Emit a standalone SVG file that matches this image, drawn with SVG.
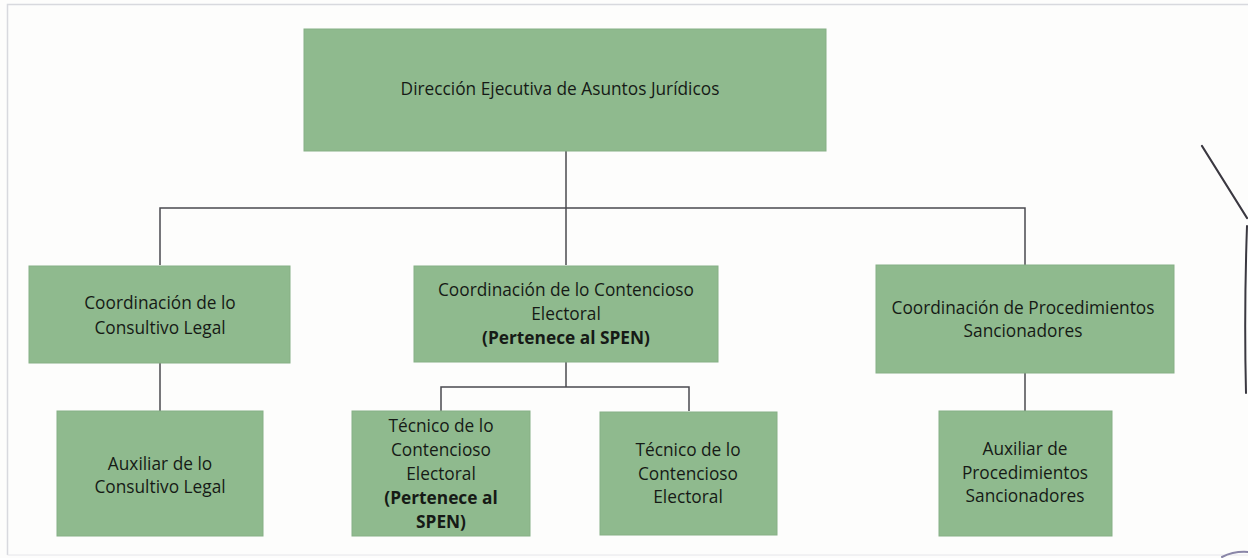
<svg xmlns="http://www.w3.org/2000/svg" width="1248" height="558" viewBox="0 0 1248 558">
<style>
.box{fill:#8fba8e;stroke:#86b085;stroke-width:1}
.t{font-family:"Open Sans","Liberation Sans",sans-serif;font-size:17.3px;fill:#161a16;text-anchor:middle}
.b{font-weight:bold}
.ln{stroke:#4a4a4f;stroke-width:1.5;fill:none}
</style>
<rect x="0" y="0" width="1248" height="558" fill="#fdfdfc"/>
<path d="M7.5,555 V4.5 H1248" fill="none" stroke="#d8d9de" stroke-width="1.5"/>
<path d="M7.5,555 H1248" fill="none" stroke="#e6e6ea" stroke-width="1"/>
<g id="connectors">
<path class="ln" d="M566,151 V265"/>
<path class="ln" d="M160,265 V208 H1025 V265"/>
<path class="ln" d="M160,363 V411"/>
<path class="ln" d="M566,362 V387"/>
<path class="ln" d="M441,411 V387 H689 V411"/>
<path class="ln" d="M1025,373 V411"/>
</g>
<g id="n-direccion">
<rect class="box" x="304" y="29" width="522" height="122"/>
<text class="t" x="560" y="95">Dirección Ejecutiva de Asuntos Jurídicos</text>
</g>
<g id="n-consultivo">
<rect class="box" x="29" y="266" width="261" height="97"/>
<text class="t" x="160" y="309">Coordinación de lo</text>
<text class="t" x="160" y="334">Consultivo Legal</text>
</g>
<g id="n-contencioso">
<rect class="box" x="414" y="266" width="304" height="96"/>
<text class="t" x="566" y="296">Coordinación de lo Contencioso</text>
<text class="t" x="566" y="320">Electoral</text>
<text class="t b" x="566" y="344">(Pertenece al SPEN)</text>
</g>
<g id="n-procedimientos">
<rect class="box" x="876" y="265" width="298" height="108"/>
<text class="t" x="1023" y="314">Coordinación de Procedimientos</text>
<text class="t" x="1023" y="337">Sancionadores</text>
</g>
<g id="n-aux-consultivo">
<rect class="box" x="57" y="411" width="206" height="125"/>
<text class="t" x="160" y="470">Auxiliar de lo</text>
<text class="t" x="160" y="493">Consultivo Legal</text>
</g>
<g id="n-tecnico-spen">
<rect class="box" x="352" y="411" width="178" height="125"/>
<text class="t" x="441" y="432">Técnico de lo</text>
<text class="t" x="441" y="456">Contencioso</text>
<text class="t" x="441" y="480">Electoral</text>
<text class="t b" x="441" y="504">(Pertenece al</text>
<text class="t b" x="441" y="528">SPEN)</text>
</g>
<g id="n-tecnico">
<rect class="box" x="600" y="412" width="177" height="123"/>
<text class="t" x="688" y="456">Técnico de lo</text>
<text class="t" x="688" y="480">Contencioso</text>
<text class="t" x="688" y="503">Electoral</text>
</g>
<g id="n-aux-procedimientos">
<rect class="box" x="939" y="411" width="173" height="125"/>
<text class="t" x="1025" y="455">Auxiliar de</text>
<text class="t" x="1025" y="479">Procedimientos</text>
<text class="t" x="1025" y="502">Sancionadores</text>
</g>
<path d="M1202,146 L1247,218" fill="none" stroke="#3a3840" stroke-width="2.2" stroke-linecap="round"/>
<path d="M1247,226 Q1244,310 1246,393" fill="none" stroke="#3a3840" stroke-width="2" stroke-linecap="round"/>
<path d="M1222,557 Q1234,551 1248,552" fill="none" stroke="#8a86a8" stroke-width="2" stroke-linecap="round"/>
</svg>
